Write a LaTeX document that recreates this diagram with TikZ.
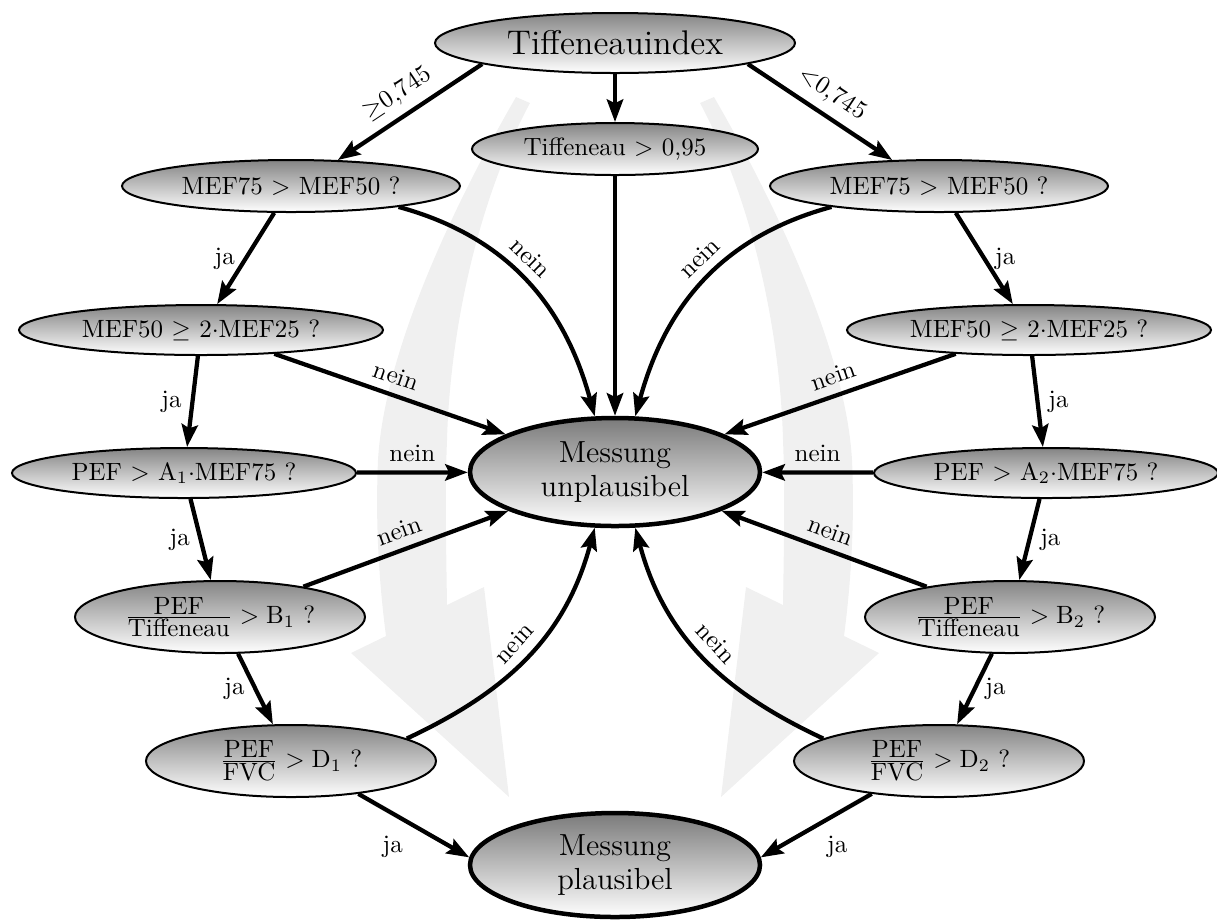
\documentclass[tikz,border=0pt]{standalone}
\usetikzlibrary{shapes.geometric,arrows.meta}
\begin{document}
\begin{tikzpicture}[x=0.4pt,y=-0.4pt,
  q/.style={ellipse, draw=black, line width=0.8pt, top color=black!48, bottom color=white,
            inner sep=0pt, align=center, font=\fontsize{10}{12}\selectfont},
  big/.style={q, line width=1.8pt, top color=black!52, font=\fontsize{12.2}{13.5}\selectfont},
  arr/.style={line width=1.7pt, -{Stealth[length=9pt,width=6.5pt,inset=1.5pt]}},
  lab/.style={font=\fontsize{10}{12}\selectfont, inner sep=3.5pt},
  bgarrow/.style={fill=black!6, draw=none}
]
\useasboundingbox (0,0) rectangle (1217,922);

% background arrows
\fill[bgarrow] (516,97) .. controls (468,180) and (385,340) .. (378,460)
  .. controls (375,530) and (380,590) .. (386,636) -- (351,653) -- (509,797) -- (484,587) -- (447,605)
  .. controls (446,540) and (445,490) .. (447,440)
  .. controls (450,330) and (478,200) .. (530,103) -- cycle;
\fill[bgarrow] (714,97) .. controls (762,180) and (845,340) .. (852,460)
  .. controls (855,530) and (850,590) .. (844,636) -- (879,653) -- (721,797) -- (746,587) -- (783,605)
  .. controls (784,540) and (785,490) .. (783,440)
  .. controls (780,330) and (752,200) .. (700,103) -- cycle;

% nodes
\node[q, minimum width=144pt, minimum height=24pt, font=\fontsize{13.7}{16}\selectfont] (T) at (615,43) {Tiffeneauindex};
\node[q, minimum width=114.4pt, minimum height=20.8pt] (T95) at (615,149) {Tiffeneau $>$ 0,95};
\node[q, minimum width=135.2pt, minimum height=20.8pt] (L1) at (291,186) {MEF75 $>$ MEF50 ?};
\node[q, minimum width=135.2pt, minimum height=20.8pt] (R1) at (939,186) {MEF75 $>$ MEF50 ?};
\node[q, minimum width=145.6pt, minimum height=20pt] (L2) at (201,330) {MEF50 $\geq$ 2$\cdot$MEF25 ?};
\node[q, minimum width=145.6pt, minimum height=20pt] (R2) at (1029,330) {MEF50 $\geq$ 2$\cdot$MEF25 ?};
\node[q, minimum width=137.6pt, minimum height=20pt] (L3) at (184,473) {PEF $>$ A$_1\cdot$MEF75 ?};
\node[q, minimum width=137.6pt, minimum height=20pt] (R3) at (1046,473) {PEF $>$ A$_2\cdot$MEF75 ?};
\node[big, minimum width=116pt, minimum height=43.2pt] (U) at (615,472) {Messung\\unplausibel};
\node[q, minimum width=116pt, minimum height=28.8pt] (L4) at (220,617) {$\frac{\mbox{PEF}}{\mbox{Tiffeneau}} > \mathrm{B}_1$ ?};
\node[q, minimum width=116pt, minimum height=28.8pt] (R4) at (1010,617) {$\frac{\mbox{PEF}}{\mbox{Tiffeneau}} > \mathrm{B}_2$ ?};
\node[q, minimum width=116pt, minimum height=28.8pt] (L5) at (291,761) {$\frac{\mbox{PEF}}{\mbox{FVC}} > \mathrm{D}_1$ ?};
\node[q, minimum width=116pt, minimum height=28.8pt] (R5) at (939,761) {$\frac{\mbox{PEF}}{\mbox{FVC}} > \mathrm{D}_2$ ?};
\node[big, minimum width=116pt, minimum height=41.6pt] (P) at (615,865) {Messung\\plausibel};

% connectors
\draw[arr] (T.189) -- node[lab, sloped, above] {$\geq$0,745} (L1.29);
\draw[arr] (T.-9) -- node[lab, sloped, above] {$<$0,745} (R1.151);
\draw[arr] (T) -- (T95);
\draw[arr] (L1) -- node[lab, left] {ja} (L2);
\draw[arr] (R1) -- node[lab, right] {ja} (R2);
\draw[arr] (L1.-11) .. controls +(110,30) and +(-30,-110) .. (U.110)
  node[lab, sloped, above, pos=0.45] {nein};
\draw[arr] (R1.-169) .. controls +(-110,30) and +(30,-110) .. (U.70)
  node[lab, sloped, above, pos=0.45] {nein};
\draw[arr] (T95) -- (U);
\draw[arr] (L2.-18) -- node[lab, sloped, above] {nein} (U.161);
\draw[arr] (R2.-162) -- node[lab, sloped, above] {nein} (U.19);
\draw[arr] (L2) -- node[lab, left] {ja} (L3);
\draw[arr] (R2) -- node[lab, right] {ja} (R3);
\draw[arr] (L3) -- node[lab, above] {nein} (U);
\draw[arr] (R3) -- node[lab, above] {nein} (U);
\draw[arr] (L3) -- node[lab, left] {ja} (L4);
\draw[arr] (R3) -- node[lab, right] {ja} (R4);
\draw[arr] (L4.20) -- node[lab, sloped, above] {nein} (U.200);
\draw[arr] (R4.160) -- node[lab, sloped, above] {nein} (U.-20);
\draw[arr] (L4) -- node[lab, left] {ja} (L5);
\draw[arr] (R4) -- node[lab, right] {ja} (R5);
\draw[arr] (L5.11) .. controls +(101,-47) and +(-29,108) .. (U.-110)
  node[lab, sloped, above, pos=0.5] {nein};
\draw[arr] (R5.169) .. controls +(-101,-47) and +(29,108) .. (U.-70)
  node[lab, sloped, above, pos=0.5] {nein};
\draw[arr] (L5.-26) -- node[lab, below left] {ja} (P.177);
\draw[arr] (R5.-154) -- node[lab, below right] {ja} (P.3);
\end{tikzpicture}
\end{document}
